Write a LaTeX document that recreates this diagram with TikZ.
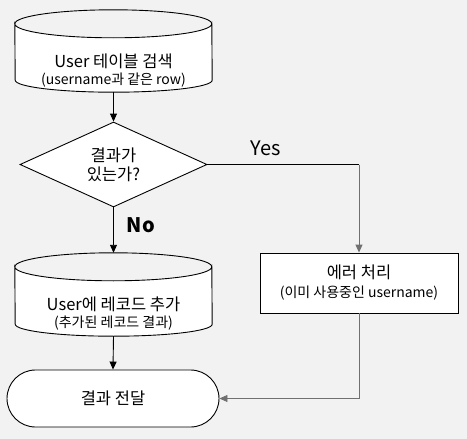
\documentclass[tikz,border=0pt]{standalone}
\usepackage{fontspec}
\setmainfont{Noto Sans CJK KR}
\usetikzlibrary{arrows.meta,shapes.geometric}
\definecolor{bg}{RGB}{242,242,242}
\definecolor{lgray}{RGB}{112,112,112}
\tikzset{
  box/.style={draw=black,fill=white,line width=0.9pt,inner sep=0pt,align=center},
  ghost/.style={inner sep=0pt,align=center},
  arr/.style={line width=0.9pt,-{Triangle[length=8pt,width=7pt]}},
  big/.style={font=\fontsize{16.5}{20}\selectfont},
  small/.style={font=\fontsize{14}{16}\selectfont},
  lbl/.style={font=\fontsize{20}{22}\selectfont},
}
\newcommand{\mycyl}[4]{% node name, rx, ry top, ry bottom
  \draw[line width=0.9pt,fill=white]
    ([yshift=-#3pt]#1.north west) arc[start angle=180,end angle=360,x radius=#2pt,y radius=#3pt]
    -- ([yshift=#4pt]#1.south east) arc[start angle=0,end angle=-180,x radius=#2pt,y radius=#4pt]
    -- cycle;
  \draw[line width=0.9pt]
    ([yshift=-#3pt]#1.north west) arc[start angle=180,end angle=0,x radius=#2pt,y radius=#3pt];
}
\begin{document}
\begin{tikzpicture}[x=1pt,y=1pt]
\fill[bg] (0,0) rectangle (467,-439);
\useasboundingbox (0,0) rectangle (467,-439);

% top cylinder
\node[ghost,minimum width=197pt,minimum height=82pt] (cyl1) at (113.5,-51) {};
\mycyl{cyl1}{98.5}{14}{12}
\node[big] (t1) at (113.5,-61) {User 테이블 검색};
\node[small] (t1b) at (113.5,-80) {(username과 같은 row)};

% diamond
\node[box,diamond,aspect=2.2,minimum width=187pt,minimum height=85pt,font=\fontsize{16.5}{19}\selectfont] (dia) at (113.5,-164.5) {결과가\\있는가?};

% bottom cylinder
\node[ghost,minimum width=197pt,minimum height=83pt] (cyl2) at (113.5,-294.5) {};
\mycyl{cyl2}{98.5}{14}{12}
\node[big] (t2) at (113.5,-304) {User에 레코드 추가};
\node[small] (t2b) at (113.5,-323) {(추가된 레코드 결과)};

% error box
\node[box,minimum width=198pt,minimum height=60pt] (err) at (359,-283) {};
\node[big] (e1) at (359,-272) {에러 처리};
\node[small] (e2) at (359,-293) {(이미 사용중인 username)};

% terminal
\node[box,rounded corners=28.5pt,minimum width=212pt,minimum height=57pt,big] (term) at (113,-398.5) {결과 전달};

% connectors
\draw[arr] (cyl1.south) -- (dia.north);
\draw[arr] (dia.south) -- (cyl2.north);
\draw[arr] (cyl2.south) -- (term.north);
\coordinate (yc) at (err.north |- dia.east);
\draw[line width=0.9pt] (dia.east) -- (yc);
\draw[arr,draw=lgray] (yc) -- (err.north);
\coordinate (ec) at (err.south |- term.east);
\draw[arr,draw=lgray] (err.south) -- (ec) -- (term.east);

% labels
\node[lbl] (yes) at (266,-148) {Yes};
\node[font=\fontsize{20}{22}\bfseries\selectfont] (no) at (141,-225) {No};
\end{tikzpicture}
\end{document}
